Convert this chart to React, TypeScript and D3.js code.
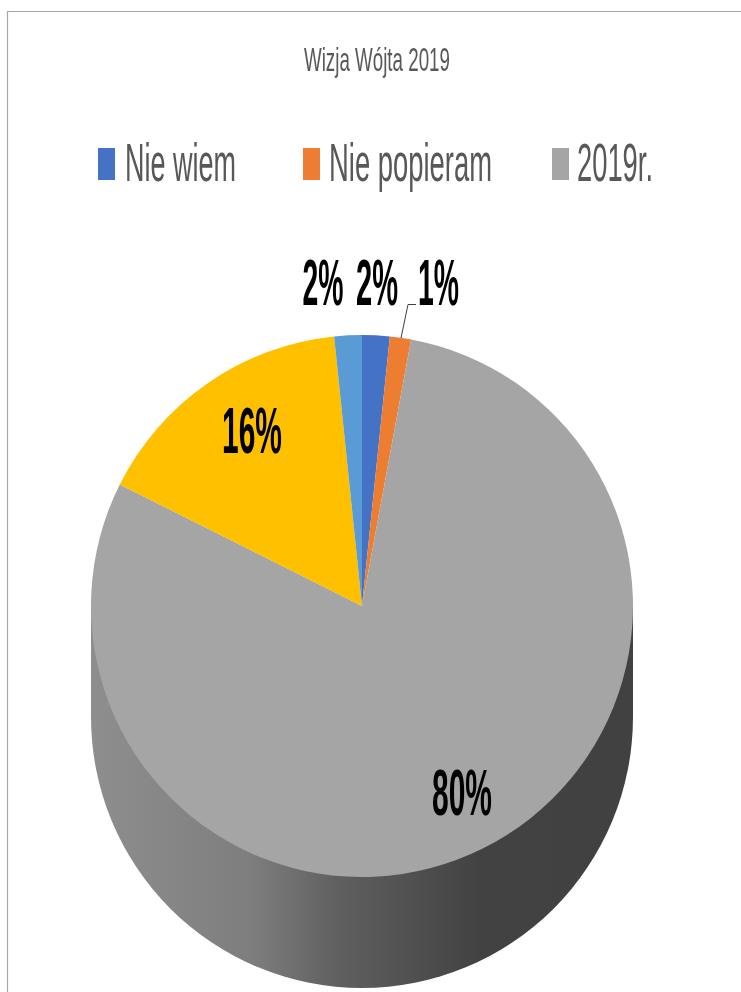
import React from "react";
import * as d3 from "d3";

const categories = ["Nie wiem", "Nie popieram", "2019r.", "Poparcie", "Inne"];
const values = [1.64, 1.26, 79.5, 15.96, 1.64];
const sliceColors = ["#4472C4", "#ED7D31", "#A5A5A5", "#FFC000", "#5B9BD5"];
const legendItems = ["Nie wiem", "Nie popieram", "2019r."];
const chartTitle = "Wizja Wójta 2019";

const W = 741, H = 992;
const cx = 362, cy = 606, R = 271, depth = 111;
const family = "'Liberation Sans'";

// layout of the legend: [swatch x, text x, text width]
const legendLayout = [[98, 125, 111], [303, 329, 163], [552, 577, 76]];
// layout of the value labels: centre x, baseline y, width
const labelLayout = [[377, 305, 42], [438.5, 305, 41], [462, 815, 60], [252, 453, 60], [323, 305, 41]];

const ctx = document.createElement("canvas").getContext("2d")!;
function squeeze(text: string, cssFont: string, target: number) {
  ctx.font = cssFont;
  return target / ctx.measureText(text).width;
}

function FitText({ text, x, y, width, size, weight = 400, fill, anchor = "start" }: {
  text: string; x: number; y: number; width: number; size: number; weight?: number; fill: string; anchor?: string;
}) {
  const sx = squeeze(text, `${weight} ${size}px ${family}`, width);
  return (
    <text transform={`translate(${x},${y}) scale(${sx},1)`} textAnchor={anchor} fontFamily={family}
      fontWeight={weight} fontSize={size} fill={fill}>{text}</text>
  );
}

export default function App() {
  const pie = d3.pie<number>().sort(null).value(d => d);
  const arcs = pie(values);
  const arc = d3.arc<d3.PieArcDatum<number>>().innerRadius(0).outerRadius(R);
  const fmt = (v: number) => `${Math.round(v + 1e-9)}%`;

  const side = d3.path();
  side.moveTo(cx + R, cy);
  side.lineTo(cx + R, cy + depth);
  side.arc(cx, cy + depth, R, 0, Math.PI, false);
  side.lineTo(cx - R, cy);
  side.closePath();

  const gradX = d3.scaleLinear().domain([cx - R, cx + R]).range([0, 100]);
  const stops: [number, string][] = [[91, "#8E8E8E"], [250, "#7E7E7E"], [340, "#5F5F5F"], [480, "#424242"], [633, "#414141"]];

  return (
    <svg width={W} height={H} style={{ position: "absolute", left: 0, top: 0, background: "#fff" }}>
      <defs>
        <linearGradient id="sideGrad" x1="0" x2="1" y1="0" y2="0">
          {stops.map(([x, c]) => <stop key={x} offset={`${gradX(x)}%`} stopColor={c} />)}
        </linearGradient>
        <filter id="soft" x="-5%" y="-5%" width="110%" height="110%">
          <feGaussianBlur stdDeviation="0.45" />
        </filter>
      </defs>
      <path d={`M7.5,${H}V11.5H${W}`} fill="none" stroke="#A6A6A6" strokeWidth={1.2} />
      <path d={side.toString()} fill="url(#sideGrad)" />
      <g transform={`translate(${cx},${cy})`}>
        {arcs.map((a, i) => <path key={categories[i]} d={arc(a) ?? ""} fill={sliceColors[i]} />)}
      </g>
      <path d="M401,338L408,304.5H416" fill="none" stroke="#404040" strokeWidth={1} />
      <g filter="url(#soft)">
        <FitText text={chartTitle} x={304} y={71} width={146} size={33} fill="#595959" />
        {legendItems.map((t, i) => {
          const [sx, tx, tw] = legendLayout[i];
          return (
            <g key={t}>
              <rect x={sx} y={148} width={17} height={32} fill={sliceColors[i]} />
              <FitText text={t} x={tx} y={181} width={tw} size={53} fill="#595959" />
            </g>
          );
        })}
        {arcs.map((a, i) => {
          const [lx, ly, lw] = labelLayout[i];
          return (
            <FitText key={categories[i]} text={fmt(a.data)} x={lx} y={ly} width={lw} size={65} weight={700}
              fill="#000" anchor="middle" />
          );
        })}
      </g>
    </svg>
  );
}
